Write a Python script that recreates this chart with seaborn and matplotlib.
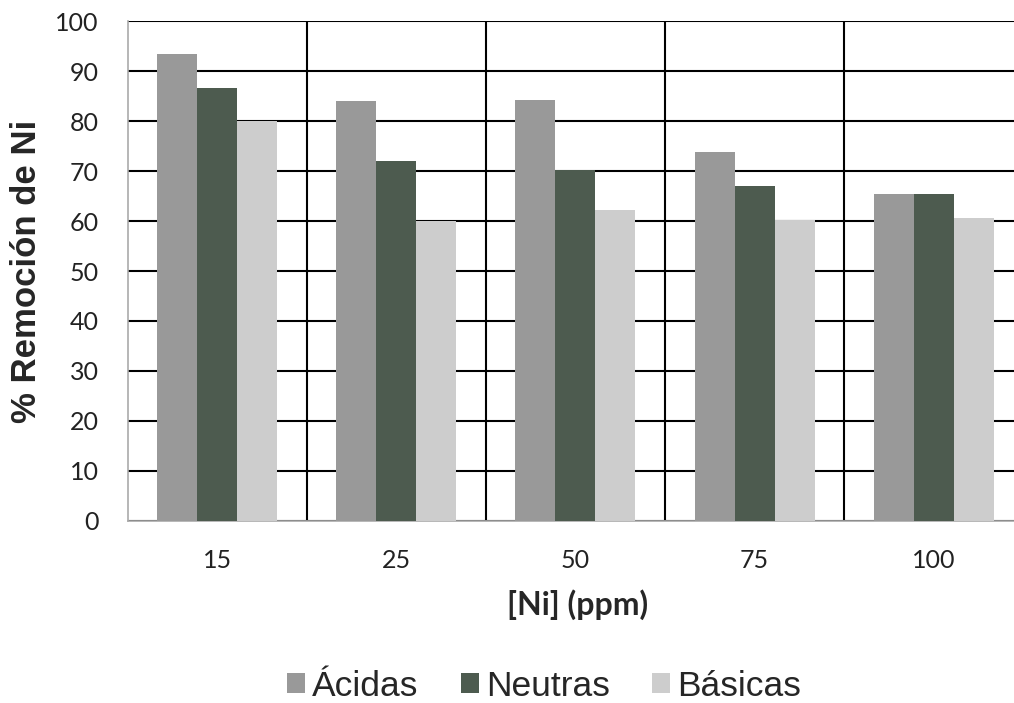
import matplotlib
matplotlib.use("Agg")
import matplotlib.pyplot as plt
import seaborn as sns
import pandas as pd
from matplotlib.ticker import MultipleLocator, FixedLocator

# Nickel concentration (ppm) and removal (%) per fraction
concentraciones = ["15", "25", "50", "75", "100"]
acidas = [93.4, 84.0, 84.2, 73.9, 65.5]
neutras = [86.6, 72.0, 70.3, 67.1, 65.5]
basicas = [80.0, 60.0, 62.2, 60.3, 60.7]
series = ["Ácidas", "Neutras", "Básicas"]
colores = ["#999999", "#4d5b4f", "#cdcdcd"]

df = pd.DataFrame({
    "conc": concentraciones * 3,
    "valor": acidas + neutras + basicas,
    "serie": [s for s in series for _ in concentraciones],
})

sns.set_theme(style="white")
plt.rcParams["font.family"] = ["Lato", "DejaVu Sans"]

fig = plt.figure(figsize=(10.14, 7.03), dpi=100)
ax = fig.add_axes([0.126, 0.259, 0.883, 0.711])

sns.barplot(data=df, x="conc", y="valor", hue="serie", order=concentraciones,
            hue_order=series, palette=colores, width=0.67, gap=0,
            saturation=1, edgecolor="none", linewidth=0, ax=ax, zorder=3)

ax.set_ylim(0, 100)
ax.set_xlim(-0.5, 4.5)
ax.yaxis.set_major_locator(MultipleLocator(10))
ax.xaxis.set_minor_locator(FixedLocator([0.5, 1.5, 2.5, 3.5]))
ax.grid(axis="y", which="major", color="black", linewidth=1.5, zorder=0)
ax.grid(axis="x", which="minor", color="black", linewidth=1.5, zorder=0)
ax.grid(axis="x", which="major", visible=False)
ax.set_axisbelow(True)

for side in ["top", "right"]:
    ax.spines[side].set_visible(False)
for side in ["left", "bottom"]:
    ax.spines[side].set_color("#aaaaaa")
    ax.spines[side].set_linewidth(1.2)

ax.tick_params(axis="both", which="both", length=0, labelsize=18, colors="#222222")
ax.tick_params(axis="x", pad=20)
ax.tick_params(axis="y", pad=21)

ax.set_xlabel("[Ni] (ppm)", fontsize=23, fontweight="bold",
              family=["Lato", "DejaVu Sans"])
ax.set_ylabel("% Remoción de Ni", fontsize=25, fontweight="bold",
              family=["Liberation Sans", "DejaVu Sans"])
ax.xaxis.label.set_verticalalignment("center")
ax.yaxis.label.set_verticalalignment("center")
ax.xaxis.set_label_coords((578 - 128) / 895, (521 - 605) / 500)
ax.yaxis.set_label_coords((27 - 128) / 895, 0.5)

handles, labels = ax.get_legend_handles_labels()
ax.legend_.remove()
fig.legend(handles, labels, loc="center", bbox_to_anchor=(544 / 1014, 1 - 686 / 703),
           ncol=3, frameon=False, handlelength=0.5, handleheight=0.5,
           handletextpad=0.2, columnspacing=1.2, borderpad=0, borderaxespad=0,
           prop={"family": ["Liberation Sans", "DejaVu Sans"], "size": 25.5})

fig.savefig("out.png", dpi=100)
